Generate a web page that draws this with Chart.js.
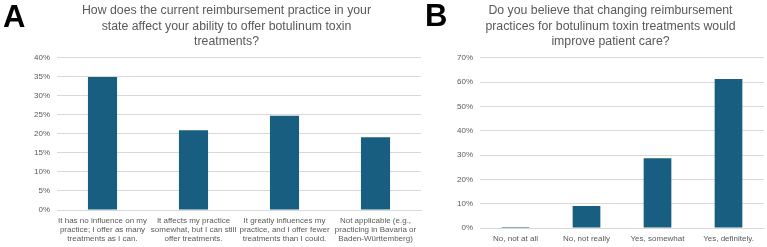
<!DOCTYPE html>
<html>
<head>
<meta charset="utf-8">
<script src="https://cdn.jsdelivr.net/npm/chart.js@4/dist/chart.umd.min.js"></script>
<style>
  body { margin: 0; background: #fff; }
  #wrap { position: relative; width: 767px; height: 247px; overflow: hidden; }
  .panel { position: absolute; top: 0; height: 247px; }
  .letter { position: absolute; font-family: "Liberation Sans", Arial, sans-serif; font-weight: bold; font-size: 31px; color: #000; line-height: 1; }
</style>
</head>
<body>
<div id="wrap">
  <div class="panel" style="left:0;width:462px"><canvas id="chartA"></canvas></div>
  <div class="panel" style="left:457px;width:310px"><canvas id="chartB"></canvas></div>
  <div class="letter" style="left:3px;top:1px">A</div>
  <div class="letter" style="left:425px;top:0px">B</div>
</div>
<script>
// Panel A data
const titleA = ['How does the current reimbursement practice in your', 'state affect your ability to offer botulinum toxin', 'treatments?'];
const categoriesA = [
  ['It has no influence on my', 'practice; I offer as many', 'treatments as I can.'],
  ['It affects my practice', 'somewhat, but I can still', 'offer treatments.'],
  ['It greatly influences my', 'practice, and I offer fewer', 'treatments than I could.'],
  ['Not applicable (e.g.,', 'practicing in Bavaria or', 'Baden-Württemberg)']
];
const valuesA = [35, 21, 24.8, 19.1];

// Panel B data
const titleB = ['Do you believe that changing reimbursement', 'practices for botulinum toxin treatments would', 'improve patient care?'];
const categoriesB = ['No, not at all', 'No, not really', 'Yes, somewhat', 'Yes, definitely.'];
const valuesB = [0.4, 9.1, 28.7, 61.3];

const barColor = '#175e80';
const textColor = '#595959';
const gridColor = '#d9d9d9';
const fontFamily = "'Liberation Sans', Arial, sans-serif";

function makeChart(id, cfg) {
  return new Chart(document.getElementById(id).getContext('2d'), {
    type: 'bar',
    data: {
      labels: cfg.labels,
      datasets: [{
        data: cfg.values,
        backgroundColor: barColor,
        categoryPercentage: 1,
        barPercentage: cfg.barPct
      }]
    },
    options: {
      responsive: true,
      maintainAspectRatio: false,
      animation: false,
      layout: { padding: cfg.padding },
      plugins: {
        legend: { display: false },
        tooltip: { enabled: false },
        title: {
          display: true,
          text: cfg.title,
          color: textColor,
          font: { family: fontFamily, size: 12.3, weight: 'normal', lineHeight: 1.27 },
          padding: { top: 3, bottom: 8 }
        }
      },
      scales: {
        x: {
          afterFit: (scale) => { scale.height = cfg.axisHeight; },
          grid: { display: false, drawTicks: false },
          border: { color: gridColor },
          ticks: {
            color: textColor,
            font: { family: fontFamily, size: 8, lineHeight: 1.12 },
            maxRotation: 0,
            autoSkip: false,
            padding: 6
          }
        },
        y: {
          min: 0,
          max: cfg.max,
          afterFit: (scale) => { scale.width = cfg.axisWidth; },
          grid: { color: gridColor, drawTicks: false },
          border: { display: false },
          ticks: {
            stepSize: cfg.step,
            color: textColor,
            padding: 7,
            font: { family: fontFamily, size: 8 },
            callback: (v) => v + '%'
          }
        }
      }
    }
  });
}

makeChart('chartA', {
  labels: categoriesA, values: valuesA, title: titleA,
  max: 40, step: 5, barPct: 0.32, axisWidth: 25, axisHeight: 37,
  padding: { left: 32, right: 41, bottom: 0 }
});

makeChart('chartB', {
  labels: categoriesB, values: valuesB, title: titleB,
  max: 70, step: 10, barPct: 0.39, axisWidth: 23, axisHeight: 19,
  padding: { left: 0, right: 3, bottom: 0 }
});
</script>
</body>
</html>
